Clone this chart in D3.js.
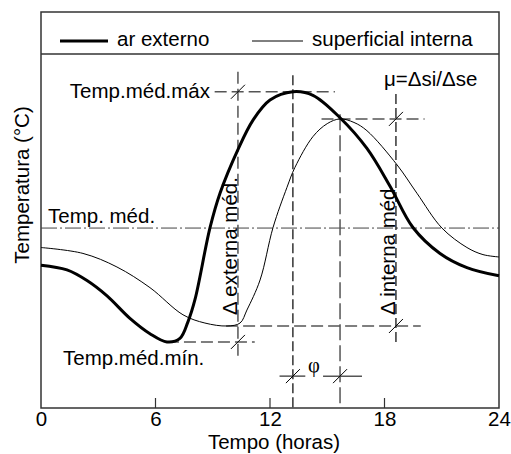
<!DOCTYPE html>
<html><head><meta charset="utf-8">
<script src="https://cdn.jsdelivr.net/npm/d3@7"></script>
<style>
html,body{margin:0;padding:0;background:#fff;}
svg text{font-family:"Liberation Sans",Arial,sans-serif;fill:#000;}
</style></head>
<body><svg id="c" width="511" height="454"></svg>
<script>
// ---- data (hours, temperature in arbitrary °C units) ----
const horasExt = [0, 1.36, 2.41, 3.46, 4.66, 5.71, 6.6, 7.28, 7.7, 8.07, 8.86, 9.38, 10.32, 11.11, 12.0, 13.2, 14.25, 15.67, 17.08, 18.29, 19.49, 20.91, 22.32, 24];
const tempExt  = [22.1, 21.7, 20.8, 19.5, 17.6, 16.3, 15.6, 15.9, 17.3, 19.2, 25.3, 28.2, 31.9, 34.4, 36.1, 36.8, 36.5, 34.6, 32.0, 28.8, 25.3, 23.1, 21.9, 21.2];
const horasInt = [0, 2.2, 3.98, 5.71, 7.44, 8.59, 9.75, 10.43, 10.79, 11.48, 12.16, 12.89, 13.31, 14.25, 15.0, 15.67, 16.4, 17.08, 18.66, 19.7, 21.01, 22.32, 23.16, 24];
const tempInt  = [23.6, 23.1, 21.95, 20.2, 17.9, 17.2, 16.95, 17.2, 18.3, 20.85, 25.3, 28.7, 30.4, 33.0, 34.1, 34.5, 34.2, 33.5, 30.6, 28.2, 25.25, 23.6, 23.0, 22.8];
const xTicks = [0, 6, 12, 18, 24];
const seriesNames = ["ar externo", "superficial interna"];

// annotation values
const tempMed = 25.25;          // Temp. méd.
const tMaxExt = 13.2, vMaxExt = 36.8;
const tMaxInt = 15.67, vMaxInt = 34.5;
const tMinExt = 6.6, vMinExt = 15.6;
const tMinInt = 9.7, vMinInt = 16.95;
const tDeltaExt = 10.32, tDeltaInt = 18.6;
const vPhi = 12.7;

const svg = d3.select("#c");
const L = 41, R = 499, T = 12, B = 408, LEG = 54;
const FS = 20.5;
const x = d3.scaleLinear().domain([0, 24]).range([L, R]);
const y = d3.scaleLinear().domain([10, 40]).range([B, LEG]);

const grey = "#555";
function seg(x1, y1, x2, y2, color, w, dash) {
  svg.append("line").attr("x1", x1).attr("y1", y1).attr("x2", x2).attr("y2", y2)
    .attr("stroke", color).attr("stroke-width", w).attr("stroke-dasharray", dash || null);
}
function cross(px, py) {
  seg(px - 7, py + 7, px + 7, py - 7, "#000", 1);
}

// frame
svg.append("rect").attr("x", L).attr("y", T).attr("width", R - L).attr("height", B - T)
  .attr("fill", "none").attr("stroke", "#333").attr("stroke-width", 1.5);
seg(L, LEG, R, LEG, "#333", 1.5);

// x axis ticks (inward)
const xAxis = d3.axisBottom(x).tickValues(xTicks).tickSize(0).tickPadding(0);
const gx = svg.append("g").attr("transform", `translate(0,${B})`).call(xAxis);
gx.select(".domain").remove();
gx.selectAll("text").attr("font-size", FS).attr("dy", null).attr("y", 17.5)
  .style("font-family", '"Liberation Sans",Arial,sans-serif').attr("fill", "#000");
xTicks.slice(1, -1).forEach(t => seg(x(t), B, x(t), B - 10, "#333", 1.2));

// axis titles
svg.append("text").attr("x", 274).attr("y", 449).attr("text-anchor", "middle").attr("font-size", FS).text("Tempo (horas)");
svg.append("text").attr("transform", "translate(29,185) rotate(-90)").attr("text-anchor", "middle").attr("font-size", FS).text("Temperatura (°C)");

// Temp. méd. dash-dot line
seg(L, y(tempMed), R, y(tempMed), "#444", 1, "16,3,2,3");
svg.append("text").attr("x", 48).attr("y", y(tempMed) - 5).attr("font-size", FS).text("Temp. méd.");

// guide lines
seg(x(tDeltaExt), y(38.5), x(tDeltaExt), y(14.3), grey, 1.5, "12,5");
seg(x(tDeltaInt), y(36.6), x(tDeltaInt), y(15.4), "#000", 1.2, "10,4");
seg(x(tMaxExt), y(38.2), x(tMaxExt), B, "#000", 1.2, "10,4");
seg(x(tMaxInt), y(34.9), x(tMaxInt), B, grey, 1.5, "16,5");
seg(x(9.1), y(vMaxExt), x(15.4), y(vMaxExt), grey, 1.5, "12,5");
seg(x(14.7), y(vMaxInt), x(20.1), y(vMaxInt), grey, 1.5, "12,5");
seg(x(tMinInt), y(vMinInt), x(19.9), y(vMinInt), grey, 1.5, "12,5");
seg(x(tMinExt), y(vMinExt), x(11.2), y(vMinExt), grey, 1.5, "12,5");
seg(x(12.5), y(vPhi), x(13.85), y(vPhi), grey, 1.5);
seg(x(14.78), y(vPhi), x(16.82), y(vPhi), grey, 1.5);

// crosses
cross(x(tDeltaExt), y(vMaxExt));
cross(x(tDeltaExt), y(vMinExt));
cross(x(tDeltaInt), y(vMaxInt));
cross(x(tDeltaInt), y(vMinInt));
cross(x(tMaxExt), y(vPhi));
cross(x(tMaxInt), y(vPhi));

// curves
const line = d3.line().curve(d3.curveCatmullRom.alpha(0.5));
svg.append("path").attr("d", line(horasInt.map((h, i) => [x(h), y(tempInt[i])])))
  .attr("fill", "none").attr("stroke", "#000").attr("stroke-width", 1);
svg.append("path").attr("d", line(horasExt.map((h, i) => [x(h), y(tempExt[i])])))
  .attr("fill", "none").attr("stroke", "#000").attr("stroke-width", 3);

// annotation texts
svg.append("text").attr("x", 210).attr("y", y(vMaxExt) + 6).attr("text-anchor", "end").attr("font-size", FS).text("Temp.méd.máx");
svg.append("text").attr("x", 63).attr("y", 365).attr("font-size", FS).text("Temp.méd.mín.");
svg.append("text").attr("x", 384).attr("y", 86).attr("font-size", FS).text("μ=Δsi/Δse");
svg.append("text").attr("x", 314).attr("y", y(vPhi) - 4).attr("text-anchor", "middle").attr("font-size", FS)
  .style("font-family", '"Liberation Serif","DejaVu Serif",serif').text("φ");
svg.append("text").attr("transform", `translate(${x(tDeltaExt) - 1},315) rotate(-90)`).attr("font-size", FS).text("Δ externa méd.");
svg.append("text").attr("transform", `translate(${x(tDeltaInt) - 1},315) rotate(-90)`).attr("font-size", FS).text("Δ interna méd");

// legend
seg(60, 41, 108, 41, "#000", 3);
svg.append("text").attr("x", 117).attr("y", 46).attr("font-size", FS).text(seriesNames[0]);
seg(252, 41, 303, 41, "#000", 1);
svg.append("text").attr("x", 312).attr("y", 46).attr("font-size", FS).text(seriesNames[1]);
</script></body></html>
